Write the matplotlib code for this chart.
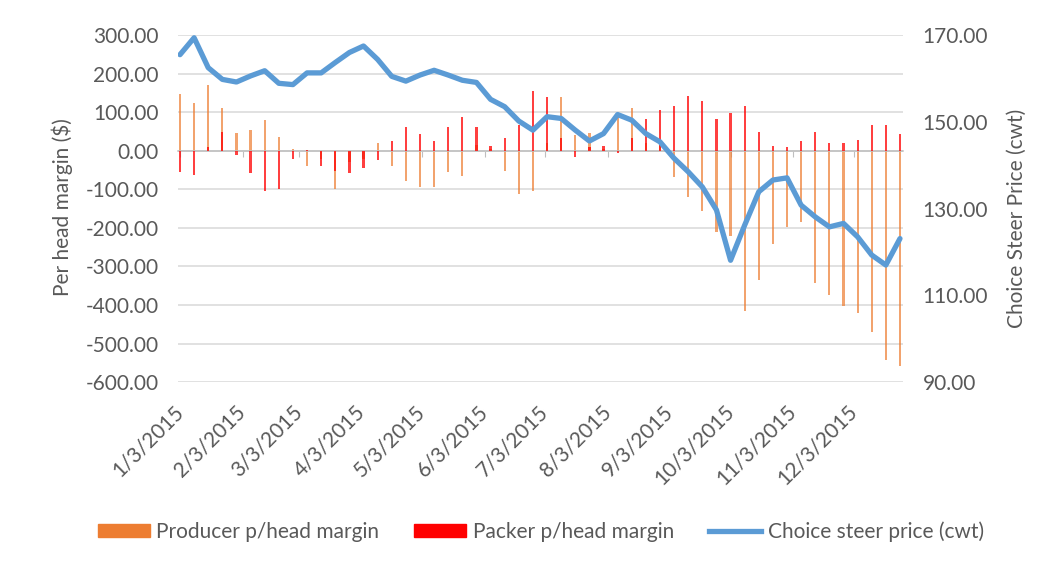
import numpy as np
import pandas as pd
import matplotlib
matplotlib.use('Agg')
import matplotlib.pyplot as plt
import matplotlib.dates as mdates
from matplotlib.patches import Patch
from matplotlib.lines import Line2D
from datetime import datetime

plt.rcParams['font.family'] = ['Lato', 'DejaVu Sans']
txt_color = '#595959'
base_fontsize = 15

# weekly data, 2015
weeks = pd.date_range('2015-01-03', periods=52, freq='7D')
producer = [147, 123, 170, 110, 47, 53, 80, 37, 6, -40,
            -20, -100, -30, -20, 19, -40, -77, -94, -94, -55,
            -66, 15, 5, -52, -111, -103, 20, 140, 40, 45,
            5, 96, 110, 20, 30, -67, -120, -157, -211, -220,
            -416, -335, -242, -197, -185, -344, -375, -403, -420, -470,
            -542, -557]
packer = [-55, -62, 10, 50, -10, -57, -103, -98, -20, 2,
          -40, -52, -57, -44, -25, 26, 63, 43, 26, 63,
          87, 63, 13, 33, 67, 154, 140, 32, -15, 10,
          13, -5, 32, 83, 105, 117, 143, 130, 83, 97,
          117, 50, 13, 9, 26, 50, 21, 21, 27, 67,
          67, 43]
price = [165.5, 169.4, 162.5, 159.8, 159.2, 160.6, 161.8, 158.9, 158.6, 161.3,
         161.3, 163.7, 166.0, 167.5, 164.4, 160.5, 159.4, 160.8, 161.9, 160.8,
         159.6, 159.1, 155.2, 153.5, 150.2, 148.1, 151.2, 150.8, 148.1, 145.6,
         147.3, 151.7, 150.4, 147.3, 145.4, 141.6, 138.5, 135.0, 129.7, 118.1,
         126.2, 133.9, 136.6, 137.1, 130.8, 128.1, 125.8, 126.6, 123.5, 119.3,
         117.0, 123.1]
month_ticks = [datetime(2015, m, 3) for m in range(1, 13)]
tick_labels = [f'{d.month}/{d.day}/{d.year}' for d in month_ticks]

c_prod = '#ED7D31'
c_pack = '#FF0000'
c_line = '#5B9BD5'

fig = plt.figure(figsize=(10.5, 5.67), dpi=100)
ax = fig.add_axes([0.1695, 0.326, 0.6905, 0.612])
ax2 = ax.twinx()

ax.bar(weeks, producer, width=1.1, color=c_prod, alpha=0.7, zorder=2)
ax.bar(weeks, packer, width=1.1, color=c_pack, alpha=0.75, zorder=3)
ax2.plot(weeks, price, color=c_line, linewidth=3.8, solid_joinstyle='round',
         solid_capstyle='round')

ax.set_ylim(-600, 300)
ax.set_yticks(np.arange(-600, 301, 100))
ax.set_yticklabels([f'{v:.2f}' for v in np.arange(-600, 301, 100)])
ax2.set_ylim(90, 170)
ax2.set_yticks([90, 110, 130, 150, 170])
ax2.set_yticklabels([f'{v:.2f}' for v in [90, 110, 130, 150, 170]])
ax.set_xlim(weeks[0] - pd.Timedelta(days=1), weeks[-1] + pd.Timedelta(days=1.5))

ax.grid(axis='y', color='#D9D9D9', linewidth=1.1, zorder=0)
ax.set_axisbelow(True)
for a in (ax, ax2):
    for s in ('left', 'right', 'top'):
        a.spines[s].set_visible(False)
ax2.spines['bottom'].set_visible(False)

# axis line at zero with small month ticks
ax.spines['bottom'].set_position(('data', 0))
ax.spines['bottom'].set_color('#BFBFBF')
ax.spines['bottom'].set_linewidth(1.1)
ax.set_xticks(month_ticks)
ax.tick_params(axis='x', direction='out', length=4, color='#BFBFBF',
               labelbottom=False)

# date labels at the bottom of the plot
secx = ax.secondary_xaxis('bottom')
secx.spines['bottom'].set_visible(False)
secx.set_xticks(mdates.date2num(month_ticks), tick_labels)
secx.tick_params(axis='x', length=0, pad=19, labelsize=base_fontsize,
                 labelcolor=txt_color)
for lbl in secx.get_xticklabels():
    lbl.set_rotation(45)
    lbl.set_ha('right')
    lbl.set_va('center')
    lbl.set_rotation_mode('anchor')

ax.tick_params(axis='y', length=0, pad=14, labelsize=base_fontsize,
               labelcolor=txt_color)
ax2.tick_params(axis='y', length=0, pad=14, labelsize=base_fontsize,
                labelcolor=txt_color)

fig.text(0.059, 0.635, 'Per head margin ($)', rotation=90, ha='center',
         va='center', fontsize=base_fontsize, color=txt_color)
fig.text(0.968, 0.615, 'Choice Steer Price (cwt)', rotation=90, ha='center',
         va='center', fontsize=base_fontsize, color=txt_color)

handles = [Patch(color=c_prod), Patch(color=c_pack),
           Line2D([], [], color=c_line, linewidth=3.8)]
labels = ['Producer p/head margin', 'Packer p/head margin',
          'Choice steer price (cwt)']
leg = fig.legend(handles, labels, loc='center', bbox_to_anchor=(0.515, 0.062),
                 ncol=3, frameon=False, fontsize=base_fontsize,
                 handlelength=2.5, handleheight=0.55, handletextpad=0.3,
                 columnspacing=1.7)
for t in leg.get_texts():
    t.set_color(txt_color)

fig.savefig('out.png', dpi=100)
